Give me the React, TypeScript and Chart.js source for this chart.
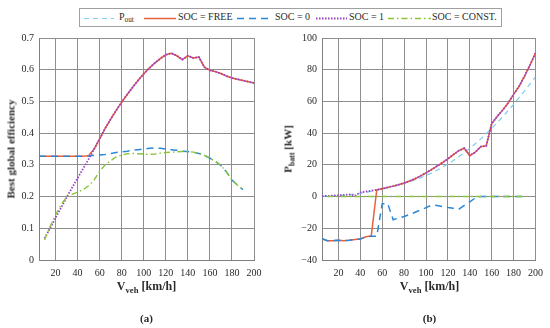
import React, { useEffect, useRef } from 'react';
import { Chart, registerables } from 'chart.js';
Chart.register(...registerables);

const speeds = [5, 10, 15, 20, 25, 30, 35, 40, 45, 50, 55, 60, 65, 70, 75, 80, 85, 90, 95, 100,
  105, 110, 115, 120, 125, 130, 135, 140, 145, 150, 155, 160, 165, 170, 175, 180, 185, 190, 195, 200];

const xTicks = [20, 40, 60, 80, 100, 120, 140, 160, 180, 200];
const yTicksA = [0, 0.1, 0.2, 0.3, 0.4, 0.5, 0.6, 0.7];
const yTicksB = [-40, -20, 0, 20, 40, 60, 80, 100];

// (a) best global efficiency
const effFree = [0.327, 0.327, 0.327, 0.327, 0.327, 0.327, 0.327, 0.327, 0.327, 0.329, 0.35, 0.382, 0.415, 0.444, 0.472, 0.498, 0.522, 0.545, 0.567, 0.587,
  0.605, 0.621, 0.635, 0.647, 0.652, 0.644, 0.632, 0.644, 0.637, 0.64, 0.608, 0.598, 0.594, 0.588, 0.58, 0.574, 0.57, 0.566, 0.562, 0.558];
const effSoc0 = [0.327, 0.327, 0.327, 0.327, 0.327, 0.327, 0.327, 0.327, 0.327, 0.328, 0.33, 0.331, 0.333, 0.336, 0.339, 0.341, 0.343, 0.346, 0.348, 0.35,
  0.352, 0.353, 0.352, 0.35, 0.348, 0.346, 0.343, 0.342, 0.34, 0.336, 0.33, 0.321, 0.311, 0.298, 0.278, 0.252, 0.236, 0.222, null, null];
const effSoc1 = [null, 0.068, 0.1, 0.133, 0.165, 0.197, 0.228, 0.258, 0.288, 0.318, 0.35, 0.382, 0.415, 0.444, 0.472, 0.498, 0.522, 0.545, 0.567, 0.587,
  0.605, 0.621, 0.635, 0.647, 0.652, 0.644, 0.632, 0.644, 0.637, 0.64, 0.608, 0.598, 0.594, 0.588, 0.58, 0.574, 0.57, 0.566, 0.562, 0.558];
const effConst = [null, 0.063, 0.105, 0.142, 0.175, 0.198, 0.207, 0.214, 0.222, 0.234, 0.252, 0.28, 0.3, 0.313, 0.325, 0.331, 0.335, 0.336, 0.335, 0.334,
  0.333, 0.334, 0.337, 0.339, 0.34, 0.341, 0.342, 0.342, 0.34, 0.336, 0.33, 0.321, 0.311, 0.298, 0.278, 0.252, 0.236, 0.222, null, null];

// (b) battery power [kW]
const pOut = [0.2, 0.3, 0.5, 0.7, 0.9, 1.2, 1.6, 2.1, 2.7, 3.3, 4.0, 4.7, 5.5, 6.4, 7.3, 8.3, 9.4, 10.6, 11.9, 13.3,
  14.8, 16.6, 18.6, 20.6, 22.8, 25.2, 27.7, 30.4, 33.3, 36.4, 39.6, 43.0, 46.6, 50.3, 54.2, 58.2, 62.4, 66.7, 71.1, 75.5];
const pFree = [-26.5, -27.8, -27.8, -27.6, -27.9, -27.5, -27.0, -26.8, -25.3, -24.8, 4.3, 5.0, 5.8, 6.6, 7.5, 8.6, 9.8, 11.2, 13.0, 14.9,
  17.0, 19.2, 21.4, 23.8, 26.5, 29.0, 30.5, 25.8, 28.0, 31.5, 32.0, 46.0, 50.5, 54.5, 59.0, 64.5, 69.5, 76.0, 83.0, 90.5];
const pSoc0 = [-26.5, -27.8, -27.8, -27.6, -27.9, -27.5, -27.0, -26.8, -25.3, -25.0, -25.0, -4.5, -4.4, -14.6, -13.5, -12.6, -11.3, -9.9, -8.5, -7.0,
  -5.4, -5.6, -6.3, -6.9, -7.4, -7.9, -5.6, -3.3, -0.9, 0, 0, 0, 0, 0, 0, 0, 0, 0, null, null];
const pSoc1 = [0.3, 0.4, 0.6, 0.8, 1.0, 1.3, 0.5, 2.6, 3.2, 3.7, 4.3, 5.0, 5.8, 6.6, 7.5, 8.6, 9.8, 11.2, 13.0, 14.9,
  17.0, 19.2, 21.4, 23.8, 26.5, 29.0, 30.5, 25.8, 28.0, 31.5, 32.0, 46.0, 50.5, 54.5, 59.0, 64.5, 69.5, 76.0, 83.0, 90.5];
const pConst = [null, 0, 0, 0, 0, 0, 0, 0, 0, 0, 0, 0, 0, 0, 0, 0, 0, 0, 0, 0,
  0, 0, 0, 0, 0, 0, 0, 0, 0, 0, 0, 0, 0, 0, 0, 0, 0, 0, null, null];

const C_POUT = '#7ccff2';
const C_FREE = '#e8603a';
const C_SOC0 = '#2a88d8';
const C_SOC1 = '#9a3fc4';
const C_CONST = '#8cc43c';
const FONT = "'Liberation Serif', 'Times New Roman', serif";

const pts = (arr: (number | null)[]) =>
  speeds.map((x, i) => ({ x, y: arr[i] })).filter((p) => p.y !== null);

const styles: any = {
  pout: { borderColor: C_POUT, borderWidth: 1.2, borderDash: [5, 4], order: 5 },
  free: { borderColor: C_FREE, borderWidth: 1.5, order: 4 },
  soc0: { borderColor: C_SOC0, borderWidth: 1.5, borderDash: [7, 5], order: 3 },
  soc1: { borderColor: C_SOC1, borderWidth: 1.8, borderDash: [1.5, 1.5], order: 2 },
  cst: { borderColor: C_CONST, borderWidth: 1.4, borderDash: [6, 3, 1.5, 3], order: 1 },
};

function makeConfig(datasets: any[], yMin: number, yMax: number, yTicks: number[], fmt: (v: number) => string, yWidth: number, padRight: number): any {
  return {
    type: 'line',
    data: { datasets: datasets.map((d) => ({ ...d, pointRadius: 0, fill: false, tension: 0, borderCapStyle: 'butt' })) },
    options: {
      responsive: false,
      maintainAspectRatio: false,
      animation: false,
      layout: { padding: { top: 38, right: padRight, left: 0, bottom: 0 } },
      plugins: { legend: { display: false }, tooltip: { enabled: false } },
      scales: {
        x: {
          type: 'linear', min: 5, max: 200,
          afterBuildTicks: (s: any) => { s.ticks = xTicks.map((v) => ({ value: v })); },
          afterFit: (s: any) => { s.height = 68; },
          grid: { color: '#8e8e8e', lineWidth: 1, drawTicks: false },
          border: { color: '#808080', width: 1 },
          ticks: { padding: 7, autoSkip: false, maxRotation: 0, color: '#2a2a2a', font: { family: FONT, size: 10 } },
        },
        y: {
          type: 'linear', min: yMin, max: yMax,
          afterBuildTicks: (s: any) => { s.ticks = yTicks.map((v) => ({ value: v })); },
          afterFit: (s: any) => { s.width = yWidth; },
          grid: { color: '#8e8e8e', lineWidth: 1, drawTicks: false },
          border: { color: '#808080', width: 1 },
          ticks: { padding: 5, color: '#2a2a2a', font: { family: FONT, size: 10 }, callback: (v: any) => fmt(Number(v)) },
        },
      },
    },
  };
}

function ChartCanvas({ config, left }: { config: any; left: number }) {
  const ref = useRef<HTMLCanvasElement | null>(null);
  useEffect(() => {
    if (!ref.current) return;
    const ch = new Chart(ref.current, config);
    return () => ch.destroy();
  }, []);
  return <canvas ref={ref} width={275} height={328} style={{ position: 'absolute', left, top: 0, width: 275, height: 328, display: 'block' }} />;
}

const sub = (t: string) => <span style={{ fontSize: '0.72em', position: 'relative', top: '0.35em' }}>{t}</span>;

function LegendLine({ x1, x2, color, dash, width }: { x1: number; x2: number; color: string; dash?: string; width: number }) {
  return <line x1={x1} y1={9.5} x2={x2} y2={9.5} stroke={color} strokeWidth={width} strokeDasharray={dash} />;
}

export default function App() {
  const cfgA = makeConfig([
    { ...styles.free, data: pts(effFree) },
    { ...styles.soc0, data: pts(effSoc0) },
    { ...styles.soc1, data: pts(effSoc1) },
    { ...styles.cst, data: pts(effConst) },
  ], 0, 0.7, yTicksA, (v) => (v === 0 ? '0' : v.toFixed(1)), 39, 21);
  const cfgB = makeConfig([
    { ...styles.pout, data: pts(pOut) },
    { ...styles.free, data: pts(pFree) },
    { ...styles.soc0, data: pts(pSoc0) },
    { ...styles.soc1, data: pts(pSoc1) },
    { ...styles.cst, data: pts(pConst) },
  ], -40, 100, yTicksB, (v) => (v < 0 ? '\u2212' + Math.abs(v) : String(v)), 47, 13);

  const txt: any = { position: 'absolute', fontFamily: FONT, color: '#2a2a2a', whiteSpace: 'nowrap', lineHeight: 1 };
  const bx = 79; // legend box left
  return (
    <div style={{ position: 'fixed', left: 0, top: 0, width: 550, height: 328, background: '#fff', overflow: 'hidden' }}>
      <ChartCanvas config={cfgA} left={0} />
      <ChartCanvas config={cfgB} left={275} />

      {/* legend */}
      <div style={{ position: 'absolute', left: bx, top: 8, width: 421, height: 17, border: '1px solid #a0a0a0', background: '#fff' }}>
        <svg width={421} height={17} style={{ position: 'absolute', left: 0, top: 0 }}>
          <LegendLine x1={83 - bx} x2={113 - bx} color={C_POUT} dash="5 4" width={1.2} />
          <LegendLine x1={143 - bx} x2={175 - bx} color={C_FREE} width={1.5} />
          <LegendLine x1={236 - bx} x2={268 - bx} color={C_SOC0} dash="7 5" width={1.6} />
          <LegendLine x1={315 - bx} x2={346 - bx} color={C_SOC1} dash="1.5 1.5" width={1.8} />
          <LegendLine x1={387 - bx} x2={430 - bx} color={C_CONST} dash="6 3 1.5 3" width={1.4} />
        </svg>
      </div>
      <div style={{ ...txt, left: 119, top: 11.6, fontSize: 10 }}>P{sub('out')}</div>
      <div style={{ ...txt, left: 178, top: 11.6, fontSize: 10 }}>SOC = FREE</div>
      <div style={{ ...txt, left: 275, top: 11.6, fontSize: 10 }}>SOC = 0</div>
      <div style={{ ...txt, left: 349, top: 11.6, fontSize: 10 }}>SOC = 1</div>
      <div style={{ ...txt, left: 432, top: 11.6, fontSize: 10 }}>SOC = CONST.</div>

      {/* axis titles */}
      <div style={{ ...txt, left: 11, top: 149, fontSize: 11, fontWeight: 'bold', transform: 'translate(-50%, -50%) rotate(-90deg)' }}>Best global efficiency</div>
      <div style={{ ...txt, left: 288, top: 149, fontSize: 11, fontWeight: 'bold', transform: 'translate(-50%, -50%) rotate(-90deg)' }}>P{sub('batt')} [kW]</div>
      <div style={{ ...txt, left: 146.5, top: 280, fontSize: 12, fontWeight: 'bold', transform: 'translateX(-50%)' }}>V{sub('veh')} [km/h]</div>
      <div style={{ ...txt, left: 429.5, top: 280, fontSize: 12, fontWeight: 'bold', transform: 'translateX(-50%)' }}>V{sub('veh')} [km/h]</div>
      <div style={{ ...txt, left: 146.5, top: 312.7, fontSize: 11, fontWeight: 'bold', transform: 'translateX(-50%)' }}>(a)</div>
      <div style={{ ...txt, left: 429.5, top: 312.7, fontSize: 11, fontWeight: 'bold', transform: 'translateX(-50%)' }}>(b)</div>
    </div>
  );
}
